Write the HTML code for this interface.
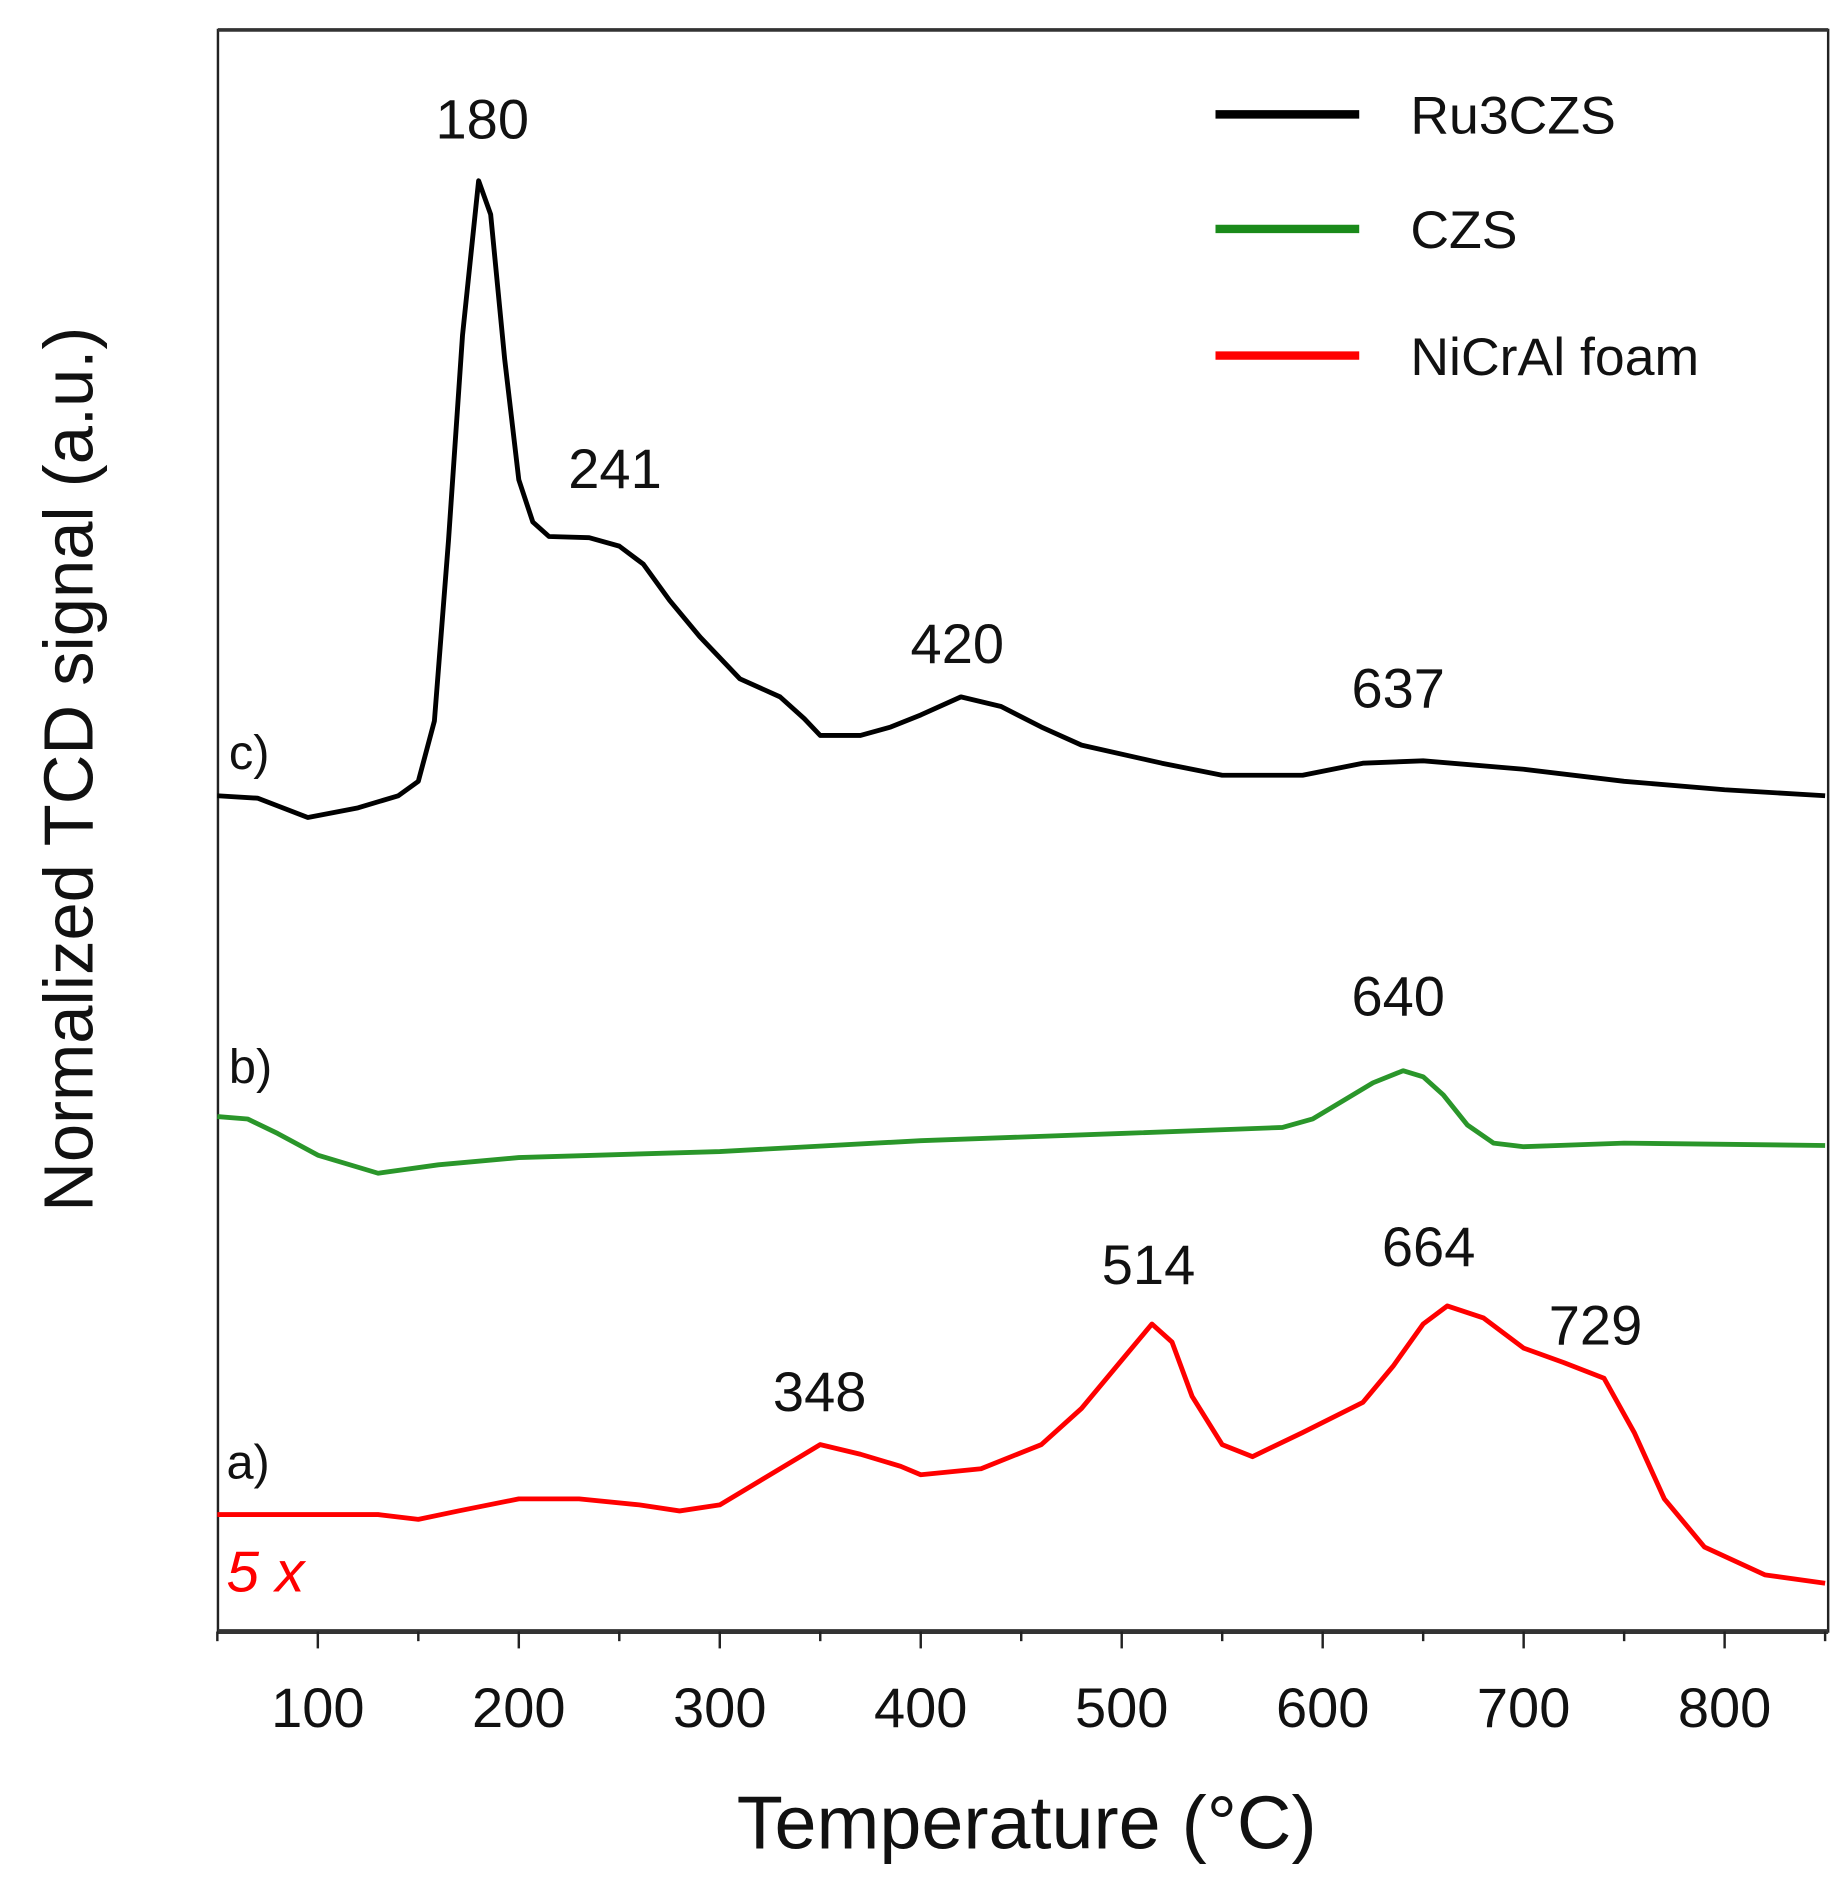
<!DOCTYPE html>
<html><head><meta charset="utf-8"><style>
html,body{margin:0;padding:0;background:#fff;}
svg{display:block;}
text{font-family:"Liberation Sans",sans-serif;}
</style></head><body>
<svg id="s" width="1840" height="1898" viewBox="0 0 1840 1898" xmlns="http://www.w3.org/2000/svg">
<g id="g" transform="matrix(1.218,0,0,1.206,-2.5,-2.6)">
<rect x="181" y="27" width="1322" height="1328" fill="none" stroke="#222" stroke-width="2"/>
<line x1="181" y1="1355" x2="1503" y2="1355" stroke="#333" stroke-width="4"/>
<line x1="181" y1="27" x2="1503" y2="27" stroke="#333" stroke-width="3"/>
<g id="ticks" stroke="#222" stroke-width="2"></g>
<g font-size="46" fill="#111" text-anchor="middle">
<text x="263" y="1434">100</text><text x="428" y="1434">200</text><text x="593" y="1434">300</text><text x="758" y="1434">400</text><text x="923" y="1434">500</text><text x="1088" y="1434">600</text><text x="1253" y="1434">700</text><text x="1418" y="1434">800</text>
</g>
<text x="845" y="1535" font-size="62" text-anchor="middle" fill="#111">Temperature (°C)</text>
<text transform="translate(78,640) rotate(-90)" font-size="57" text-anchor="middle" fill="#111">Normalized TCD signal (a.u.)</text>
<g font-size="46" fill="#111" text-anchor="middle">
<text x="398" y="117">180</text><text x="507" y="407">241</text><text x="788" y="552">420</text><text x="1150" y="589">637</text><text x="1150" y="844">640</text><text x="945" y="1067">514</text><text x="1175" y="1052">664</text><text x="1312" y="1117">729</text><text x="675" y="1172">348</text>
</g>
<g font-size="40" fill="#111">
<text x="190" y="640">c)</text><text x="190" y="900">b)</text><text x="188" y="1228">a)</text>
</g>
<text x="188" y="1322" font-size="48" font-style="italic" fill="#f00">5 x</text>
<g stroke-width="7">
<line x1="1000" y1="97" x2="1118" y2="97" stroke="#000"/>
<line x1="1000" y1="192" x2="1118" y2="192" stroke="#1a8a1a"/>
<line x1="1000" y1="297" x2="1118" y2="297" stroke="#f00"/>
</g>
<g font-size="44" fill="#111">
<text x="1160" y="113">Ru3CZS</text><text x="1160" y="208">CZS</text><text x="1160" y="313">NiCrAl foam</text>
</g>
<path id="pk" fill="none" stroke="#000" stroke-width="4" stroke-linejoin="round"/>
<path id="pg" fill="none" stroke="#2a962a" stroke-width="4" stroke-linejoin="round"/>
<path id="pr" fill="none" stroke="#f00" stroke-width="4" stroke-linejoin="round"/>
</g>
</svg>
<script>
function X(T){return 263+(T-100)*1.65;}
var t='';for(var T=50;T<=850;T+=50){var L=(T%100==0)?14:8;t+='<line x1="'+X(T)+'" y1="1355" x2="'+X(T)+'" y2="'+(1355+L)+'"/>';}
document.getElementById('ticks').innerHTML=t;
function P(id,d){var s='';for(var i=0;i<d.length;i++){s+=(i?'L':'M')+X(d[i][0]).toFixed(1)+' '+d[i][1];}document.getElementById(id).setAttribute('d',s);}
P('pk',[[50,662],[70,664],[95,680],[120,672],[140,662],[150,650],[158,600],[165,450],[172,280],[180,152],[186,180],[193,300],[200,400],[207,435],[215,447],[235,448],[250,455],[262,470],[275,500],[290,530],[310,565],[330,580],[342,598],[350,612],[370,612],[385,605],[400,595],[420,580],[440,588],[460,605],[480,620],[520,635],[550,645],[590,645],[620,635],[650,633],[700,640],[750,650],[800,657],[850,662]]);
P('pg',[[50,928],[65,930],[80,942],[100,960],[130,975],[160,968],[200,962],[300,957],[400,948],[500,942],[580,937],[595,930],[610,915],[625,900],[640,890],[650,895],[660,910],[672,935],[685,950],[700,953],[750,950],[850,952]]);
P('pr',[[50,1258],[130,1258],[150,1262],[170,1255],[200,1245],[230,1245],[260,1250],[280,1255],[300,1250],[320,1230],[340,1210],[350,1200],[370,1208],[390,1218],[400,1225],[430,1220],[460,1200],[480,1170],[500,1130],[515,1100],[525,1115],[535,1160],[550,1200],[565,1210],[590,1190],[620,1165],[635,1135],[650,1100],[662,1085],[680,1095],[700,1120],[720,1132],[740,1145],[755,1190],[770,1245],[790,1285],[820,1308],[850,1315]]);
</script>
</body></html>
